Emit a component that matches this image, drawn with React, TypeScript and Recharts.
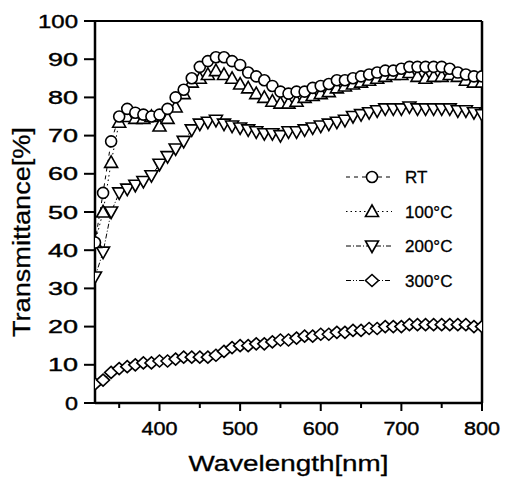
import React from 'react'
import { LineChart, Line, XAxis, YAxis, Legend, ReferenceLine } from 'recharts'

const wavelengths = [
  320, 330, 340, 350, 360, 370, 380, 390, 400, 410, 420, 430, 440, 450, 460, 470, 480,
  490, 500, 510, 520, 530, 540, 550, 560, 570, 580, 590, 600, 610, 620, 630, 640, 650,
  660, 670, 680, 690, 700, 710, 720, 730, 740, 750, 760, 770, 780, 790, 800,
]

const rt = [
  42, 55, 68.5, 75, 77, 76, 75.5, 75, 75.5, 77, 80, 82, 85, 88, 89.5, 90.5, 90.5,
  89.5, 88.5, 86.5, 85.5, 84.5, 83, 81.5, 81, 81.5, 81.5, 82.5, 83, 83.5, 84.5, 84.5, 85, 85.5,
  86, 86.5, 87, 87, 87.5, 88, 88, 88, 88, 88, 87.5, 86.5, 86, 85.5, 85.5,
]

const t100 = [
  42, 50, 63, 73.5, 75, 74.5, 74.5, 75, 72.5, 74.5, 77.5, 81, 84, 85, 86, 87, 86,
  85, 83.5, 82.5, 81, 80, 79, 78.5, 78.5, 79, 80, 80.5, 81, 81.5, 82.5, 83, 83.5, 84,
  84.5, 85, 85.5, 86, 86, 86.5, 85.5, 85, 85.5, 85.5, 86, 85.5, 84.5, 84, 84,
]

const t200 = [
  33, 39.5, 50, 55, 56, 57, 58, 59.5, 62.5, 64.5, 66.5, 68.5, 71.5, 73, 73.5, 74, 73,
  72.5, 72, 71.5, 71, 70.5, 70.5, 70, 71, 71, 71.5, 72, 72.5, 73, 73.5, 74, 75, 75.5,
  76, 76.5, 77, 77, 77, 77.5, 77, 77, 77, 77, 77, 76.5, 76.5, 76, 75.5,
]

const t300 = [
  5, 6, 8, 9, 9.5, 10, 10.5, 10.5, 11, 11, 11.5, 12, 12, 12, 12, 12.5, 13.5,
  14.5, 15, 15, 15.5, 15.5, 16, 16.5, 16.5, 17, 17.5, 17.5, 18, 18, 18.5, 18.5, 19, 19,
  19.5, 19.5, 20, 20, 20, 20.5, 20.5, 20.5, 20.5, 20.5, 20.5, 20.5, 20.5, 20, 20,
]

const xTicks = [350, 400, 450, 500, 550, 600, 650, 700, 750, 800]
const yTicks = [0, 10, 20, 30, 40, 50, 60, 70, 80, 90, 100]

type Shape = 'circle' | 'up' | 'down' | 'diamond'

const series: { key: string; name: string; shape: Shape; dash: string }[] = [
  { key: 't300', name: '300°C', shape: 'diamond', dash: '5 2 1 2 1 2' },
  { key: 't200', name: '200°C', shape: 'down', dash: '5 2 1 2' },
  { key: 't100', name: '100°C', shape: 'up', dash: '1.5 3' },
  { key: 'rt', name: 'RT', shape: 'circle', dash: '4 4' },
]
const legendOrder = ['rt', 't100', 't200', 't300']

const data = wavelengths.map((w, i) => ({ w, rt: rt[i], t100: t100[i], t200: t200[i], t300: t300[i] }))

const FONT = '"Liberation Sans", Arial, sans-serif'

function marker(shape: Shape, cx: number, cy: number, key?: any) {
  const common = { fill: '#fff', stroke: '#000', strokeWidth: 1.6 }
  if (shape === 'circle') return <circle key={key} cx={cx} cy={cy} r={5.5} {...common} />
  if (shape === 'up')
    return <polygon key={key} points={`${cx},${cy - 6.5} ${cx - 6.5},${cy + 5} ${cx + 6.5},${cy + 5}`} {...common} />
  if (shape === 'down')
    return <polygon key={key} points={`${cx - 6.5},${cy - 5} ${cx + 6.5},${cy - 5} ${cx},${cy + 6.5}`} {...common} />
  return <polygon key={key} points={`${cx},${cy - 6} ${cx + 6.5},${cy} ${cx},${cy + 6} ${cx - 6.5},${cy}`} {...common} />
}

const makeDot = (shape: Shape) => (p: any) => {
  if (p.cx == null || p.cy == null) return <g key={p.index} />
  return marker(shape, p.cx, p.cy, p.index)
}

const XTick = (p: any) => {
  const { x, y, payload } = p
  const major = payload.value % 100 === 0
  return (
    <g>
      <line x1={x} x2={x} y1={y} y2={y + (major ? 8 : 5)} stroke="#000" strokeWidth={2} />
      {major && (
        <text x={x} y={y + 32} textAnchor="middle" fontSize={18} fontFamily={FONT} fill="#000"
          stroke="#000" strokeWidth={0.4} textLength={36} lengthAdjust="spacingAndGlyphs">
          {payload.value}
        </text>
      )}
    </g>
  )
}

const YTick = (p: any) => {
  const { x, y, payload } = p
  const s = String(payload.value)
  const len = s.length === 3 ? 40 : s.length === 2 ? 30 : 13
  return (
    <g>
      <line x1={x - 11} x2={x} y1={y} y2={y} stroke="#000" strokeWidth={2} />
      <text x={x - 17} y={y + 6.5} textAnchor="end" fontSize={18} fontFamily={FONT} fill="#000"
        stroke="#000" strokeWidth={0.4} textLength={len} lengthAdjust="spacingAndGlyphs">
        {s}
      </text>
    </g>
  )
}

const XTitle = (p: any) => {
  const vb = p.viewBox
  return (
    <text x={vb.x + vb.width / 2} y={vb.y + 68} textAnchor="middle" fontSize={22} fontFamily={FONT}
      fill="#000" stroke="#000" strokeWidth={0.3} textLength={200} lengthAdjust="spacingAndGlyphs">
      Wavelength[nm]
    </text>
  )
}

const YTitle = (p: any) => {
  const vb = p.viewBox
  const cx = vb.x - 10
  const cy = vb.y + vb.height / 2 + 20
  return (
    <text x={cx} y={cy} transform={`rotate(-90 ${cx} ${cy})`} textAnchor="middle" fontSize={23}
      fontFamily={FONT} fill="#000" stroke="#000" strokeWidth={0.3} textLength={210} lengthAdjust="spacingAndGlyphs">
      Transmittance[%]
    </text>
  )
}

const LegendBox = () => (
  <svg width={140} height={140} style={{ display: 'block' }}>
    {legendOrder.map((k, i) => {
      const s = series.find(v => v.key === k)!
      const y = 17 + i * 34.5
      return (
        <g key={k}>
          <line x1={6} x2={52} y1={y} y2={y} stroke="#000" strokeWidth={1} strokeDasharray={s.dash} />
          {marker(s.shape, 32, y)}
          <text x={65} y={y + 6} fontSize={17} fontFamily={FONT} fill="#000" stroke="#000" strokeWidth={0.3}>
            {s.name}
          </text>
        </g>
      )
    })}
  </svg>
)

export default function App() {
  return (
    <div style={{ position: 'absolute', left: 0, top: 0, background: '#fff' }}>
      <LineChart width={505} height={477} data={data} margin={{ top: 21, right: 23, bottom: 44, left: 40 }}>
        <XAxis dataKey="w" type="number" domain={[320, 800]} ticks={xTicks} allowDataOverflow
          axisLine={{ stroke: '#000', strokeWidth: 2.5 }} tickLine={false} tickSize={0} tickMargin={0}
          tick={<XTick />} height={30} label={<XTitle />} />
        <YAxis type="number" domain={[0, 100]} ticks={yTicks} width={55}
          axisLine={{ stroke: '#000', strokeWidth: 2.5 }} tickLine={false} tickSize={0} tickMargin={0}
          tick={<YTick />} label={<YTitle />} />
        <ReferenceLine y={100} stroke="#000" strokeWidth={2} />
        <ReferenceLine x={800} stroke="#000" strokeWidth={2.5} />
        {series.map(s => (
          <Line key={s.key} dataKey={s.key} name={s.name} type="linear" stroke="#000" strokeWidth={1}
            strokeDasharray={s.dash} dot={makeDot(s.shape)} activeDot={false} isAnimationActive={false} />
        ))}
        <Legend layout="vertical" align="center" verticalAlign="middle" content={<LegendBox />}
          wrapperStyle={{ left: 340, top: 160, width: 140, height: 140 }} />
      </LineChart>
    </div>
  )
}
